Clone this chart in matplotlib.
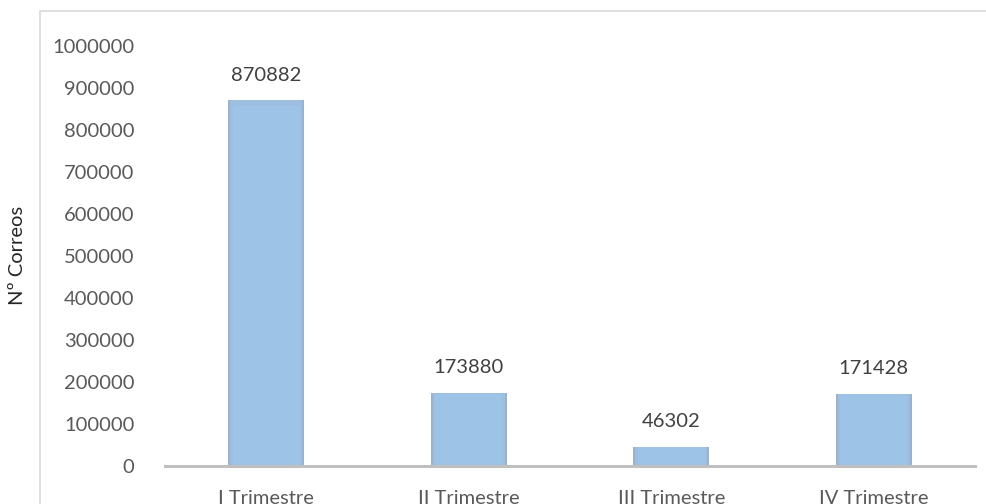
import matplotlib.pyplot as plt
from matplotlib.patches import Rectangle

categorias = ['I Trimestre', 'II Trimestre', 'III Trimestre', 'IV Trimestre']
correos = [870882, 173880, 46302, 171428]
yticks = [0, 100000, 200000, 300000, 400000, 500000, 600000, 700000, 800000, 900000, 1000000]

plt.rcParams['font.family'] = ['Lato', 'DejaVu Sans']

fig = plt.figure(figsize=(9.87, 5.04), dpi=100)
ax = fig.add_axes([165 / 987, 1 - 466 / 504, 810 / 987, 420 / 504])

# borde del grafico
fig.patches.append(Rectangle((40 / 987, -0.1), 1.1, 1 - 11 / 504 + 0.1, transform=fig.transFigure,
                             fill=False, edgecolor='#d9d9d9', linewidth=1.2))

x = range(len(categorias))
# barras con un leve sombreado en los bordes
ax.bar(x, correos, width=0.376, color='#9ab3cc', zorder=2)
ax.bar(x, correos, width=0.355, color='#9dbedf', zorder=3)
ax.bar(x, [v * 0.985 for v in correos], width=0.33, color='#9dc3e6', zorder=4)

for xi, v in zip(x, correos):
    ax.annotate(str(v), (xi, v), xytext=(0, 12), textcoords='offset points',
                ha='center', va='bottom', fontsize=14.5, color='#404040')

ax.set_xlim(-0.5, 3.5)
ax.set_ylim(0, 1000000)
ax.set_yticks(yticks)
ax.set_yticklabels([str(t) for t in yticks])
ax.set_xticks(list(x))
ax.set_xticklabels(categorias)
ax.tick_params(axis='y', length=0, pad=22, labelsize=14.5, labelcolor='#595959')
ax.tick_params(axis='x', length=0, pad=17, labelsize=14.5, labelcolor='#595959')

for s in ['top', 'right', 'left']:
    ax.spines[s].set_visible(False)
ax.spines['bottom'].set_color('#bfbfbf')
ax.spines['bottom'].set_linewidth(2.2)
ax.spines['bottom'].set_zorder(5)

fig.text(18 / 987, 1 - 255 / 504, 'Nº Correos', rotation=90, ha='center', va='center',
         fontsize=14.5, color='#262626')

fig.savefig('out.png', dpi=100)
